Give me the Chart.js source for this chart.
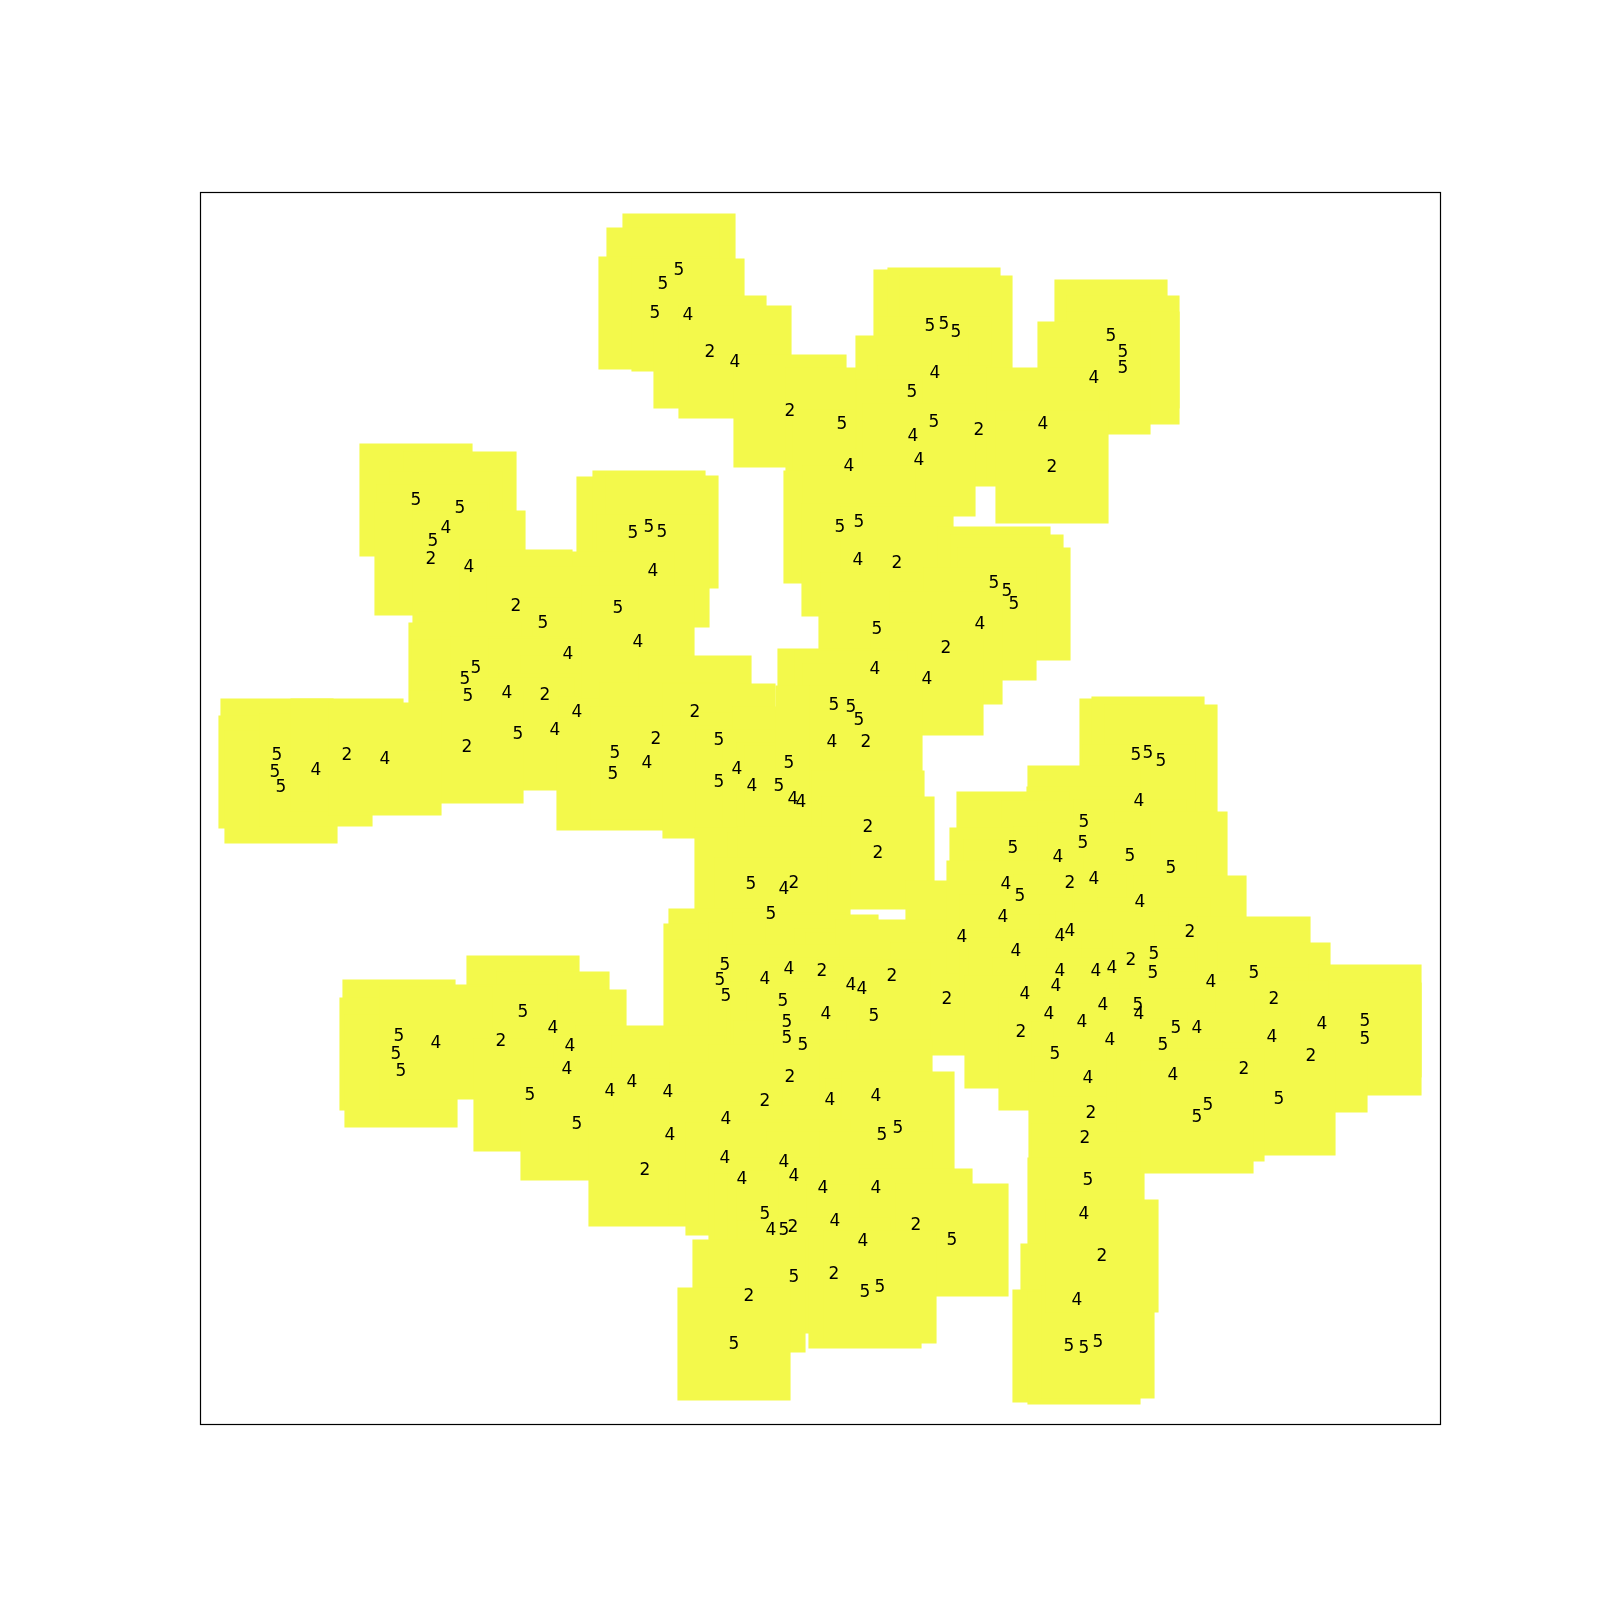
<!DOCTYPE html>
<html>
<head>
<meta charset="utf-8">
<script src="https://cdn.jsdelivr.net/npm/chart.js@4/dist/chart.umd.min.js"></script>
<style>
  html, body { margin: 0; padding: 0; background: #ffffff; }
  #c { display: block; }
</style>
</head>
<body>
<canvas id="c" width="1600" height="1600"></canvas>
<script>
// Cluster labels (text drawn on each point)
const pointLabels = [
  "5","5","5","4","2","4","2","5","4","5",
  "5","5","4","5","5","4","2","4","5","5",
  "4","2","5","5","5","5","5","5","4","5",
  "5","5","5","4","4","2","5","5","4","5",
  "2","4","2","5","4","5","5","5","4","2",
  "4","4","5","2","5","5","5","5","5","4",
  "2","4","4","5","4","2","4","4","2","2",
  "4","5","4","5","4","5","5","4","4","5",
  "5","5","4","2","2","2","5","4","2","5",
  "4","5","5","5","4","4","2","4","4","2",
  "5","2","4","5","5","5","5","5","4","5",
  "5","5","4","5","5","4","5","2","4","4",
  "4","4","4","2","4","2","5","5","4","4",
  "4","4","5","2","4","4","4","5","4","4",
  "5","4","4","4","2","5","5","5","4","5",
  "4","4","4","5","4","2","5","5","2","2",
  "4","4","4","5","5","4","4","4","4","4",
  "4","5","4","5","2","4","4","2","5","5",
  "2","5","5","2","5","2","4","5","4","2",
  "2","5","4","4","5","5","5","4","5","4",
  "5","4","5","5","4","2","4","2","5","5",
  "5","2"
];
// x coordinates (embedding dimension 1)
const xs = [
  47.9,46.3,45.5,48.8,51.0,53.5,59.0,64.2,64.9,73.0,
  74.4,75.6,73.5,71.2,73.4,71.3,77.9,71.9,64.0,65.9,
  65.8,69.7,79.4,80.7,81.4,43.3,44.9,46.2,45.3,41.8,
  91.1,92.3,92.3,89.4,84.3,85.2,21.6,26.0,24.6,23.3,
  23.1,26.9,31.6,34.3,36.8,27.6,26.5,26.8,30.7,34.5,
  37.7,35.5,31.8,26.7,41.5,41.3,7.7,7.5,8.1,11.6,
  14.7,18.5,43.8,67.7,78.0,74.6,67.5,72.7,49.5,45.6,
  44.7,51.9,53.7,51.9,55.2,58.9,57.9,59.3,60.1,63.4,
  65.1,65.9,63.2,66.6,66.8,67.8,55.1,58.4,59.4,57.1,
  76.2,52.5,52.0,52.6,56.5,58.9,62.2,65.1,66.2,69.2,
  58.3,74.7,62.6,67.4,58.7,93.6,94.8,96.1,93.9,88.4,
  88.3,81.3,85.8,93.0,97.1,80.6,82.0,87.0,89.4,94.0,
  80.3,86.0,87.0,99.0,81.6,93.1,95.4,95.3,86.0,89.6,
  91.2,101.1,105.4,107.4,85.6,82.5,90.3,93.8,93.9,84.9,
  32.3,35.3,37.0,36.7,30.1,19.9,19.6,20.1,23.6,33.0,
  41.0,43.2,46.8,37.7,47.0,44.5,58.7,60.3,59.0,56.5,
  63.0,67.6,52.6,68.2,69.8,52.5,58.4,59.4,54.2,62.3,
  67.6,56.5,57.1,58.4,59.3,63.5,66.3,71.6,75.2,59.4,
  63.4,66.5,68.0,54.9,53.4,82.1,88.2,85.5,88.8,89.1,
  88.5,88.8,88.4,87.7,86.9,88.4,89.8,91.0,97.6,99.7,
  96.3,112.2,116.5,116.5,107.2,111.1,97.3,104.4,107.9,100.8,
  99.7,90.2
];
// y coordinates (embedding dimension 2)
const ys = [
  115.6,114.2,111.3,111.1,107.4,106.4,101.5,100.2,96.0,110.0,
  110.2,109.4,105.3,103.4,100.4,99.0,99.6,96.6,89.9,90.4,
  86.6,86.3,84.3,83.5,82.2,89.3,89.9,89.4,85.5,81.8,
  109.0,107.4,105.8,104.8,100.2,95.9,92.6,91.8,89.8,88.5,
  86.7,85.9,82.0,80.3,77.2,75.8,74.7,73.0,73.3,73.1,
  71.4,69.6,69.2,67.9,67.3,65.2,67.1,65.4,63.9,65.6,
  67.1,66.7,78.4,79.7,80.2,77.8,75.7,74.7,71.4,68.7,
  66.3,68.6,65.7,64.4,64.0,66.3,64.0,62.7,62.4,72.1,
  71.9,70.6,68.4,68.4,59.9,57.3,54.2,53.7,54.3,51.2,
  48.9,46.1,44.6,43.0,44.7,45.7,45.5,44.1,43.7,45.0,
  42.5,42.7,41.2,41.0,40.4,67.1,67.3,66.5,62.5,60.4,
  58.3,57.8,56.9,57.0,55.8,54.2,53.0,54.3,54.7,52.4,
  50.9,49.0,49.5,49.4,47.5,46.6,47.2,45.3,45.5,45.5,
  45.8,44.4,45.3,42.7,44.0,43.2,42.1,42.1,41.2,41.2,
  41.4,39.8,38.0,35.7,38.5,39.0,37.2,35.5,38.3,33.1,
  33.5,34.4,33.4,30.2,29.1,25.6,38.8,38.1,34.9,32.5,
  32.6,33.0,30.7,29.1,29.8,26.8,26.4,25.0,24.7,23.8,
  23.8,21.2,19.6,19.6,19.9,20.5,18.5,20.1,18.6,14.9,
  15.2,13.4,13.9,13.0,8.2,39.4,40.4,37.2,34.8,31.3,
  28.8,24.6,21.2,12.6,8.0,7.8,8.4,38.6,39.8,39.8,
  38.1,40.2,40.5,38.7,38.9,37.0,35.1,35.7,32.7,32.1,
  30.9,17.0
];

const points = xs.map((x, i) => ({ x: x, y: ys[i] }));

const labelPlugin = {
  id: 'pointText',
  afterDatasetsDraw(chart) {
    const ctx = chart.ctx;
    const meta = chart.getDatasetMeta(0);
    ctx.save();
    ctx.fillStyle = '#000000';
    ctx.font = '17px "DejaVu Sans"';
    ctx.textAlign = 'center';
    ctx.textBaseline = 'middle';
    meta.data.forEach((el, i) => {
      ctx.fillText(pointLabels[i], el.x, el.y + 1);
    });
    ctx.restore();
  }
};

const framePlugin = {
  id: 'frame',
  afterDraw(chart) {
    const a = chart.chartArea;
    const ctx = chart.ctx;
    ctx.save();
    ctx.strokeStyle = '#000000';
    ctx.lineWidth = 1.2;
    ctx.strokeRect(a.left + 0.5, a.top + 0.5, a.right - a.left, a.bottom - a.top);
    ctx.restore();
  }
};

new Chart(document.getElementById('c'), {
  type: 'scatter',
  data: {
    datasets: [{
      data: points,
      pointStyle: 'rect',
      pointRadius: 80,
      pointHoverRadius: 80,
      backgroundColor: '#f3f94b',
      borderWidth: 0,
      clip: false
    }]
  },
  options: {
    responsive: false,
    animation: false,
    devicePixelRatio: 1,
    layout: { padding: { left: 200, right: 160, top: 192, bottom: 176 } },
    plugins: {
      legend: { display: false },
      tooltip: { enabled: false },
      title: { display: false }
    },
    scales: {
      x: { type: 'linear', min: 0, max: 124, display: false },
      y: { type: 'linear', min: 0.2, max: 123.4, display: false }
    }
  },
  plugins: [labelPlugin, framePlugin]
});
</script>
</body>
</html>
